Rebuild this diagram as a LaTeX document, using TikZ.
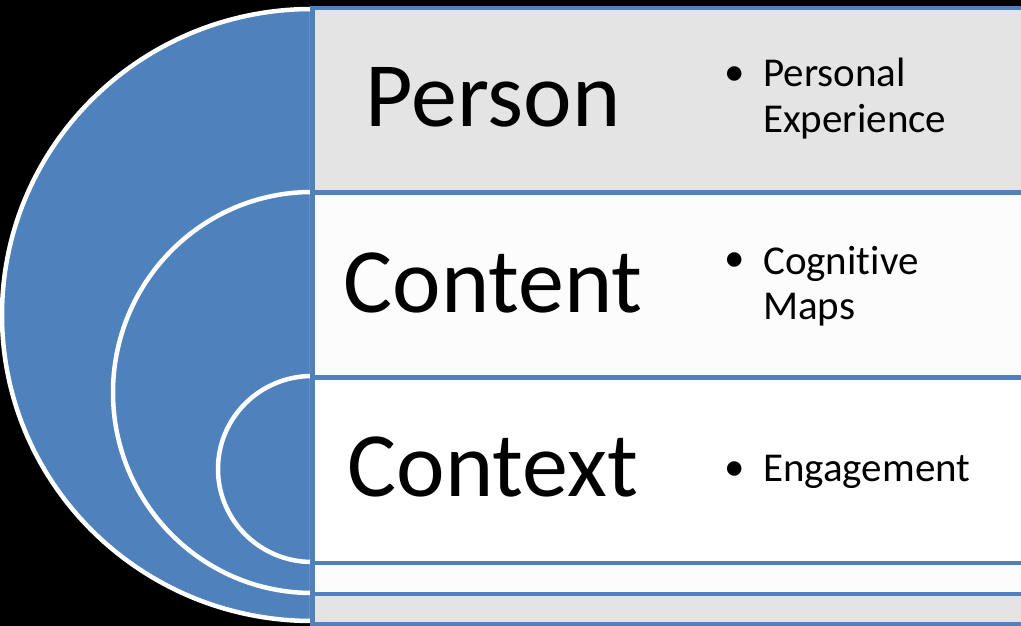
\documentclass[tikz,border=0pt]{standalone}
\usepackage{fontspec}
\setmainfont{Carlito}[RawFeature=-liga]
\definecolor{ringblue}{HTML}{4F81BD}
\definecolor{bandgray}{HTML}{E4E4E4}
\definecolor{bandlight}{HTML}{FCFCFC}
\begin{document}
\begin{tikzpicture}[x=1pt,y=1pt,
  ring/.style={fill=ringblue,draw=white,line width=4.5pt},
  band/.style={draw=ringblue,line width=4.5pt},
  title/.style={inner sep=0pt,anchor=base,font=\fontsize{92}{100}\selectfont},
  bul/.style={inner sep=0pt,anchor=center,font=\fontsize{41}{46}\selectfont},
  item/.style={inner sep=0pt,anchor=base west,font=\fontsize{41}{46}\selectfont}]
\fill[black] (0,0) rectangle (1021,626);
\useasboundingbox (0,0) rectangle (1021,626);
\begin{scope}
\clip (0,0) rectangle (1021,626);
% nested half-discs
\path[ring] (312,617) arc[start angle=90,end angle=270,x radius=310,y radius=306] -- cycle;
\path[ring] (312,434) arc[start angle=90,end angle=270,x radius=199,y radius=200.5] -- cycle;
\path[ring] (312,250) arc[start angle=90,end angle=270,x radius=94,y radius=93] -- cycle;
% stacked bands
\path[band,fill=bandgray] (312.5,618) rectangle (1040,2);
\path[band,fill=bandlight] (312.5,433.5) rectangle (1040,32);
\path[band,fill=white] (312.5,248.5) rectangle (1040,63);
\end{scope}
% titles
\node[title] (person) at (493,499) {Person};
\node[title] (content) at (493,313) {Content};
\node[title] (context) at (493,129) {Context};
% bullet lists
\node[bul] (b1) at (735,550) {\textbullet};
\node[item] (p1) at (763,539) {Personal};
\node[item] (p2) at (763,493) {Experience};
\node[bul] (b2) at (735,364) {\textbullet};
\node[item] (c1) at (763,351) {Cognitive};
\node[item] (c2) at (763,306) {Maps};
\node[bul] (b3) at (735,155) {\textbullet};
\node[item] (e1) at (763,144) {Engagement};
\end{tikzpicture}
\end{document}
